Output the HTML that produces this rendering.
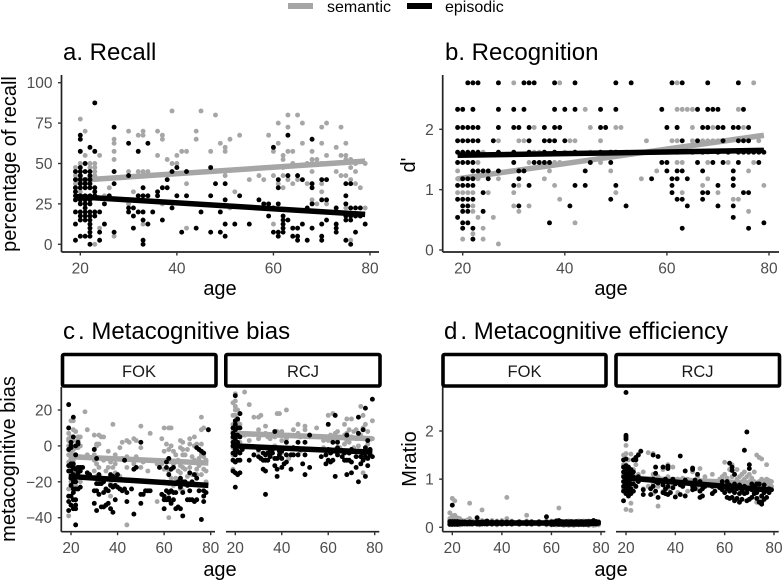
<!DOCTYPE html>
<html lang="en">
<head>
<meta charset="utf-8">
<title>Recall, recognition and metacognition by age</title>
<style>
html,body{margin:0;padding:0;background:#fff;}
svg{display:block;font-family:"Liberation Sans",Arial,sans-serif;}
.tick-label{font-size:15.5px;fill:#4d4d4d;}
.axis-title{font-size:20px;fill:#000;}
.panel-title{font-size:24px;fill:#000;}
.strip-text{font-size:16.5px;fill:#1a1a1a;}
.legend-text{font-size:16px;fill:#000;}
</style>
</head>
<body>
<svg id="chart" width="783" height="581" viewBox="0 0 783 581">
  <rect width="783" height="581" fill="#fff"/>
  <g>
    <rect x="288" y="3" width="25" height="6" fill="#a6a6a6"/>
    <text x="327" y="12" class="legend-text">semantic</text>
    <rect x="407" y="3" width="25" height="6" fill="#000"/>
    <text x="445" y="12" class="legend-text">episodic</text>
  </g>
  <text x="63" y="60" class="panel-title">a. Recall</text>
  <text x="445" y="60" class="panel-title">b. Recognition</text>
  <text x="63" y="339" class="panel-title">c<tspan dx="3">.</tspan> Metacognitive bias</text>
  <text x="444" y="339" class="panel-title">d<tspan dx="3">.</tspan> Metacognitive efficiency</text>

  <text transform="translate(16,164) rotate(-90)" text-anchor="middle" class="axis-title">percentage of recall</text>
  <text transform="translate(415,165) rotate(-90)" text-anchor="middle" class="axis-title">d'</text>
  <text transform="translate(15,459) rotate(-90)" text-anchor="middle" class="axis-title">metacognitive bias</text>
  <text transform="translate(416,459) rotate(-90)" text-anchor="middle" class="axis-title">Mratio</text>

  <text x="220" y="295" text-anchor="middle" class="axis-title">age</text>
  <text x="611" y="295" text-anchor="middle" class="axis-title">age</text>
  <text x="220" y="576" text-anchor="middle" class="axis-title">age</text>
  <text x="611" y="576" text-anchor="middle" class="axis-title">age</text>

  <g>
    <rect x="62.500" y="354.500" width="153.500" height="31.500" rx="1.5" fill="#fff" stroke="#000" stroke-width="3.6"/>
    <text x="139" y="377" text-anchor="middle" class="strip-text">FOK</text>
  </g>
  <g>
    <rect x="225.800" y="354.500" width="154.200" height="31.500" rx="1.5" fill="#fff" stroke="#000" stroke-width="3.6"/>
    <text x="303" y="377" text-anchor="middle" class="strip-text">RCJ</text>
  </g>
  <g>
    <rect x="443" y="354.500" width="163" height="31.500" rx="1.5" fill="#fff" stroke="#000" stroke-width="3.6"/>
    <text x="524.500" y="377" text-anchor="middle" class="strip-text">FOK</text>
  </g>
  <g>
    <rect x="616" y="354.500" width="163.500" height="31.500" rx="1.5" fill="#fff" stroke="#000" stroke-width="3.6"/>
    <text x="697.500" y="377" text-anchor="middle" class="strip-text">RCJ</text>
  </g>
</svg>
<script>
// Tick labels
const ageTicks = [20, 40, 60, 80];
const recallTicks = [0, 25, 50, 75, 100];
const recognitionTicks = [0, 1, 2];
const biasTicks = [-40, -20, 0, 20];
const mratioTicks = [0, 1, 2];

// Fitted lines: value at first and last age
const fitAges = [19, 79];
const recallSemanticFit = [39.5, 51.5];
const recallEpisodicFit = [29.5, 18.5];
const recognitionSemanticFit = [1.18, 1.9];
const recognitionEpisodicFit = [1.57, 1.65];
const biasFokSemanticFit = [-6, -9.5];
const biasFokEpisodicFit = [-17, -22];
const biasRcjSemanticFit = [7, 4];
const biasRcjEpisodicFit = [0, -3.5];
const mratioFokSemanticFit = [0.09, 0.09];
const mratioFokEpisodicFit = [0.09, 0.09];
const mratioRcjSemanticFit = [1.03, 0.9];
const mratioRcjEpisodicFit = [1.03, 0.77];

// Rows: [age, value, value, ...]
const recallSemantic = [[19,27.5,35,37.5,40,42.5,45,47.5],[20,30,32.5,37.5,42.5,50,77.5],[21,40,55,70],[22,35,47.5,50],[23,0,42.5,45,47.5,50],[24,10,55],[25,30],[26,35],[27,5,52.5,57.5,62.5,65],[30,25,45,70],[31,32.5],[32,45,67.5],[33,12.5,45,67.5,70],[34,45],[36,55,70],[37,25,65,67.5],[38,52.5],[39,50,82.5],[40,50,55],[41,57.5],[42,10,37.5,57.5],[44,65,70],[45,82.5],[47,57.5],[48,80],[49,62.5],[50,42.5,45,57.5,60],[51,22.5,65],[52,32.5],[53,67.5],[55,40],[57,42.5],[58,40],[59,67.5],[60,12.5,42.5,57.5],[61,37.5,62.5,75],[62,35,42.5,47.5,52.5,55],[63,40,57.5,72.5,80],[64,37.5,50,57.5],[65,40,80],[66,62.5,75],[67,37.5,50],[68,27.5,45,50,52.5,57.5],[69,25,50,52.5],[70,32.5,37.5,50,62.5,72.5],[71,25,55,75],[73,20,45,60],[74,42.5,55,72.5],[75,22.5,42.5,52.5,55,62.5],[76,2.5,40,47.5,52.5],[77,37.5,45,50],[78,35],[79,22.5,50]];
const recallEpisodic = [[19,2.5,12.5,20,27.5,30,32.5,35,40,45],[20,5,15,17.5,20,25,27.5,30,35,37.5,40,42.5,45,47.5,57.5,65,67.5],[21,5,15,17.5,20,22.5,25,27.5,30,35,37.5,40,45,50],[22,0,5,7.5,10,12.5,15,17.5,20,25,27.5,30,35,37.5,40,42.5,45,60],[23,17.5,20,30,32.5,35,57.5,87.5],[24,2.5,7.5,20],[25,12.5,25],[26,30],[27,7.5,37.5,45,72.5],[30,20,22.5,42.5,62.5],[31,10,17.5,22.5],[32,20,30,57.5],[33,0,2.5,15,20,30,35],[34,12.5,30,62.5],[35,20],[36,30,32.5],[37,15,35],[38,35,40],[39,22.5,45],[40,30,47.5],[41,7.5],[42,30,45],[44,10],[45,20],[47,7.5,30,47.5],[48,37.5],[49,7.5,20],[50,5,12.5,27.5,37.5],[52,12.5],[53,30],[55,12.5],[57,27.5],[58,25],[59,17.5,25],[60,7.5,22.5,60],[61,5,7.5,25,35,40],[62,7.5,10,12.5,15,17.5],[63,15,42.5,67.5],[64,5,10],[65,2.5,5,10,42.5],[66,12.5,40],[67,2.5,22.5],[68,10,25,35,37.5,65],[70,2.5,5,12.5,27.5,40],[71,15,27.5,40],[73,7.5,10,12.5,22.5],[75,2.5,15,17.5,25,30,37.5],[76,0,15,17.5,22.5,37.5],[77,7.5,17.5,22.5],[78,17.5,22.5],[79,12.5]];

// Rows grouped by d' level: [value, age, age, ...]
const recognitionSemantic = [[2.77,30,39,62,77],[2.33,44,62,63,64,65,74],[2.03,34,45,50,51,62,65,69,75],[1.81,27,31,32,41,42,47,56,61,62,65,67,68,69,70,78],[1.62,24,34,35,40,45,52,55,68],[1.45,23,33,38,39,47,62,63,68,72,77],[1.31,19,37,49,58,76],[1.18,19,23,27,36,55,68],[1.07,31,38,67,73,79],[0.95,19,20,21,22,25,30,50,63,70],[0.84,39,73,74],[0.73,22,30,33],[0.64,22,31,76],[0.54,23,26],[0.45,42],[0.36,24],[0.27,22],[0.18,20,24],[0.1,27]];
const recognitionEpisodic = [[2.77,21,22,23,27,32,33,34,38,42,50,53,61,63,68,74],[2.33,19,20,22,27,30,32,38,40,42,47,50,59,66,68,69,70,75],[2.03,19,20,21,22,23,27,30,31,33,36,38,39,47,48,60,62,67,68,70,71,73,74,76],[1.81,19,20,21,22,23,26,33,36,37,38,40,63,66,71,74,75,76],[1.62,19,20,21,22,23,27,30,33,36,38,42,47,49,50,58,60,62,65,67,70,72,74,75,76,77,78,79],[1.45,19,20,21,22,30,34,35,36,37,45,49,59,60,66,69,71,74,78],[1.31,22,23,24,25,27,31,32,44,60,62,63,67,73],[1.18,20,21,22,25,31,57,61,62,64,73],[1.07,19,20,21,22,30,33,42,44,50,61,70,73],[0.95,24,61,67,68,75,76],[0.84,19,20,21,22,49,62,63,67],[0.73,20,21,31,41,52,64,70,73],[0.64,20,21,24],[0.54,19,73],[0.45,20,21,37,79],[0.36,20,22,63,76],[0.18,22]];

// Rows: [age, value, value, ...]
const biasFokSemantic = [[19,-39,-24,-9,-5,0,3,4,7],[20,-20,-18,-13,-8,-5,-3,2,5,14],[21,-15,-8,-5,-2,3,9,14],[22,-22,-12,-5,-1,8],[23,-6,-1,3,5],[24,-20,-12,-6,0,5],[26,19],[27,-5,9],[30,-14,-8,-5,6],[31,-17,-10,0,1],[32,-12,1,6],[33,5],[34,-8,5],[35,-25,-14],[36,-18,-12,-3],[37,-28,-21,-9],[38,-12,-7,12],[39,-15,-10,-5],[41,-17,-1],[42,-7,2],[44,-44,-12,-6,3],[45,2],[47,-10,4],[48,-6,3],[50,-12,-1,11],[51,-9],[53,-14],[54,7],[57,-31,-10],[59,-10,4],[60,-20,-13,-3,10],[61,-8,1],[62,-40,-21,-14,-2,10],[63,-18,0,10],[64,-22,-10,-3],[65,-18,-5],[66,-14,-8],[67,-24,-15,-11,-1,3],[68,-25,-12,-5,-2,2],[69,-13,-5],[70,-17,-9,-2],[71,-12,1,4],[72,-16,-6],[73,-8,0,5],[74,-16,-13,1],[75,-11,-7],[76,-16,-5,1,9,16],[77,-13,-9,-6,10],[78,-20,-14,-8],[79,9]];
const biasFokEpisodic = [[19,-36,-31,-28,-14,-11,-2,10,23],[20,-33,-28,-22,-18,-14,-11,-10,-1,0,2],[21,-35,-30,-26,-24,-20,-16,-12,-10,5,16],[22,-44,-35,-33,-30,-24,-20,-17,-13,-5,0],[23,-24,-15,-12,1,2],[24,-23,-14,-12],[25,-12],[27,-15],[28,-16],[30,-32,-25,-18,-2],[31,-36,-25,-21,-7],[32,-27,-21,-16],[33,-34,-21,-18],[34,-34,-26,-20],[35,-33,-24],[36,-32,-25],[37,-35,-22,-16],[38,-37,-23,-17],[39,-30,-22,-18],[40,-23,-16],[41,-24],[42,-25],[43,-24,-8],[44,-31,-26],[46,-24],[47,-38,-13],[48,-12],[50,-32,-27,2],[51,-27],[52,-25],[53,-25],[54,-25],[58,-12],[59,-27],[60,-35,-30,-28],[61,-30,-25,-12,-9],[62,-30,-29,-26,-16,-7],[63,-32,-25,-13],[64,-30,-26,-12],[65,-35,-26],[66,-34,-20],[67,-35,-23,-18],[68,-39,-26,-20],[69,-20],[70,-30,-22],[71,-30,-25,-15],[72,-30,-20],[73,-31,-16],[74,-30,-18,-1],[75,-25,-2],[76,-41,-3],[77,-31,-28,-25,-4],[78,-26],[79,9]];
const biasRcjSemantic = [[19,-13,-5,-1,4,8,12,17,24],[20,0,3,6,9,13,17,20,22,25,29],[21,-3,5,10,14,20],[22,2,7,12,18],[24,6,30],[26,3,23],[28,16],[30,-3,4,9,16],[31,6,17],[33,7,11],[34,-3,5],[35,-5,4],[37,0,5],[38,8,18],[39,18],[40,-4,3,8],[42,4,20],[43,-7,6],[45,-1,9],[47,2,7,12],[48,-3,5],[50,2,9,11],[52,5],[55,10],[58,-1,3],[59,5],[60,3,17],[61,-2,6],[62,2,4,18],[63,-2,7],[64,3,8],[65,-1,5],[67,1,6,12],[68,3,7,15],[69,-4,2,9],[70,5,15],[71,-1,8],[72,4,9],[73,0,5],[74,-3,6,22],[75,-15,10,17],[76,-1,4,12],[77,1,8],[78,-2,4],[79,4,14]];
const biasRcjEpisodic = [[19,-14,-8,-4,0,2,5,7,10],[20,-23,-15,-9,-5,-2,1,4,6,9,12,14,28],[21,-16,-8,-3,2,6,10,15],[22,-15,-8,-4,0,5,10,18],[23,-2],[26,-8],[28,-5],[30,-6,-2],[31,-7,-1],[32,-13,-8,-4],[33,-27,-14,-8,-5,-1],[34,-8,-4],[35,-6,-3],[36,-4,-2],[37,-11,-7,8],[38,-17,-13,-7],[39,-5,-3],[40,-12,-7,-3],[41,-10],[42,-9,-5,2],[44,-13,-5],[45,-5,-1],[47,-5,2],[48,-2],[49,-10],[50,-16,-5,2],[52,-12,6],[57,-6],[59,-10,-5],[60,-8,-2,12],[61,-9,-4],[62,-8,-3,2],[63,-17,-3,17],[64,-5,-1,2],[66,-6,-3],[67,-8,-4],[68,-16,-8,6],[69,-8,-4],[70,-15,-9,-2],[72,-12,-6],[73,-20,-3,7,16],[74,-10,-6],[75,-8,-4,9],[76,-17,-6,-1,21],[77,-11,-7,-3,3],[78,-5,-2],[79,-6,26]];
const mratioFokSemantic = [[19,0.06,0.1,0.14,0.18,0.3],[20,0.06,0.12,0.18,0.24,0.6],[21,0.07,0.13,0.17,0.25,0.55],[22,0.06,0.12,0.16,0.2],[23,0.05,0.13,0.18],[24,0.06,0.14],[25,0.07,0.13],[26,0.06,0.15],[27,0.07,0.14,0.18,0.5],[28,0.06,0.13],[30,0.06,0.14,0.16],[31,0.05,0.13],[32,0.07,0.14,0.36],[34,0.06,0.13],[36,0.06,0.14],[38,0.05,0.13],[40,0.06,0.14],[42,0.07,0.18,0.62],[44,0.06,0.13],[47,0.06,0.12],[50,0.07,0.13,0.25],[52,0.06,0.12],[55,0.06,0.12],[58,0.05,0.13],[60,0.05,0.13],[62,0.05,0.14],[63,0.06,0.12,0.4],[65,0.04,0.12],[67,0.04,0.13],[69,0.04,0.12],[71,0.05,0.13],[73,0.05,0.13],[75,0.04,0.13],[77,0.04,0.14],[78,0.05,0.12],[79,0.05,0.11]];
const mratioFokEpisodic = [[19,0.06,0.09,0.12],[20,0.06,0.09,0.12,0.46],[21,0.06,0.1,0.12],[22,0.06,0.09,0.12],[23,0.07,0.11],[24,0.07,0.11],[25,0.07,0.11],[26,0.07,0.1],[27,0.07,0.11],[28,0.07,0.1],[30,0.07,0.11,0.2],[31,0.07,0.1],[32,0.07,0.11],[33,0.07,0.11],[34,0.07,0.13],[36,0.07,0.11],[38,0.07,0.11],[40,0.07,0.11],[42,0.07,0.11],[44,0.07,0.11],[47,0.07,0.11],[50,0.07,0.11],[52,0.07,0.11],[55,0.07,0.11],[58,0.07,0.11,0.22],[60,0.06,0.11],[61,0.06,0.11],[62,0.07,0.13],[63,0.06,0.14],[64,0.06,0.12],[65,0.06,0.11],[66,0.06,0.12],[67,0.06,0.11],[68,0.06,0.12],[69,0.06,0.11],[70,0.06,0.12],[71,0.06,0.11],[72,0.06,0.12],[73,0.06,0.11],[74,0.06,0.12],[75,0.06,0.12],[76,0.07,0.12],[77,0.07,0.14],[78,0.07,0.12],[79,0.08,0.11]];
const mratioRcjSemantic = [[19,0.8,0.95,1.1,1.3,1.5],[20,0.37,0.7,0.85,1,1.15,1.3,1.53,1.7],[21,0.75,0.9,1.05,1.2,1.4],[22,0.35,0.5,0.8,1.1,1.52],[23,0.9,1.2],[24,0.85,1.05,1.3],[25,0.95,1.1,1.52],[27,0.8,1.15],[29,0.85,1.55],[31,0.7,0.9,1.1,1.53],[33,0.44,0.85,1.05],[35,0.75,0.95,1.2],[37,0.8,1.05,1.3],[39,0.9,1.25],[41,0.72,1],[43,0.85,1.02],[45,0.75,1],[47,0.95,1.15],[49,0.8,1.05],[50,0.95,1.22],[52,0.85,1.05],[55,0.95,1.1],[58,0.85,1],[59,1.03,1.05],[60,0.9,1.1,1.35],[61,0.85,1.02],[62,0.95,1.2],[63,0.9,1.05,1.3],[65,0.85,1,1.2],[66,0.9,1.05],[67,0.8,0.95,1.1],[68,0.85,1,1.15],[69,0.9,1.05],[70,0.8,0.95,1.1],[71,0.9,1.02],[72,0.7,0.95,1.15],[73,0.52,0.85,1.5],[74,0.6,0.95,1.45],[75,0.88,1,1.42],[76,0.75,0.95],[77,0.85,1,1.3],[78,0.9,0.97],[79,0.85,0.95]];
const mratioRcjEpisodic = [[19,0.55,0.75,0.85,0.95,1.05,1.15,1.25,1.4],[20,0.7,0.78,0.85,0.92,0.98,1.05,1.12,1.2,1.28,1.42,1.83,1.87,1.91,2.8],[21,0.65,0.75,0.85,0.95,1.05,1.15,1.25],[22,0.7,0.8,0.9,1,1.1,1.2],[23,0.75,0.9,1.05,1.15,1.4],[24,0.85,1,1.4,1.45],[25,0.95,1.05,1.5],[26,1.58],[27,0.68,0.78],[30,0.68,0.8,0.98],[31,0.85,1,1.5],[32,0.75,0.95,1.25,1.12],[33,0.62,0.92,1.47],[35,0.72,0.88,0.95,1.25],[36,0.7,0.8,1],[37,0.68,0.85,1.27,1.22],[38,0.72,0.95],[39,0.82,1],[40,0.63,0.9],[42,0.68,0.88,1.48],[43,0.85],[44,0.65,0.98,1.17],[47,0.78,0.85,1.2,1.23],[48,0.8,0.98],[49,1.1],[50,0.62,0.75,0.95],[51,0.65,0.8],[52,0.85],[55,0.7,0.85],[56,0.75],[58,0.82],[59,0.78,0.95],[60,0.72,0.85],[61,0.62,0.8,0.95],[62,0.6,0.75,0.88,1.33],[63,0.62,0.78,1.25,1.18],[64,0.55,0.72,0.9,1.1],[65,0.6,0.8],[66,0.52,0.7,0.88],[67,0.58,0.75],[68,0.7,0.85,1.6],[69,0.55,0.72,1.98],[70,0.58,0.8,1.22,1.3],[71,0.62,0.78,0.9],[72,0.7,0.85],[73,0.6,0.72,0.9],[74,0.52,0.78,0.9],[75,0.48,0.52,0.65,0.8],[76,0.58,0.72,0.88],[77,0.62,0.78],[78,0.72,0.8],[79,0.78]];

const SEMANTIC_COLOR = '#a6a6a6';
const EPISODIC_COLOR = '#000000';
const root = document.getElementById('chart');
const NS = root.namespaceURI;

function linearScale(d0, d1, r0, r1) {
  return function (v) { return r0 + (v - d0) * (r1 - r0) / (d1 - d0); };
}
function make(parent, tag, props) {
  const el = document.createElementNS(NS, tag);
  for (const k in props) el.setAttribute(k, props[k]);
  parent.appendChild(el);
  return el;
}
function drawPoints(layer, rows, x, y, color, seriesName, rowsByValue) {
  for (const row of rows) {
    for (let i = 1; i < row.length; i++) {
      const age = rowsByValue ? row[i] : row[0];
      const value = rowsByValue ? row[0] : row[i];
      const dot = make(layer, 'circle', { cx: x(age), cy: y(value), r: 2.45, fill: color });
      
      
    }
  }
}
function drawFit(layer, fit, x, y, color, seriesName) {
  const line = make(layer, 'line', {
    x1: x(fitAges[0]), y1: y(fit[0]), x2: x(fitAges[1]), y2: y(fit[1]),
    stroke: color, 'stroke-width': 5.5
  });
  
  
}
function drawPanel(cfg) {
  const x = linearScale(20, 80, cfg.x20, cfg.x80);
  const y = linearScale(cfg.yDomain[0], cfg.yDomain[1], cfg.yRange[0], cfg.yRange[1]);
  const g = make(root, 'g', {});
  
  

  drawPoints(g, cfg.semantic, x, y, SEMANTIC_COLOR, 'semantic', cfg.byValue);
  drawFit(g, cfg.semanticFit, x, y, SEMANTIC_COLOR, 'semantic');
  drawPoints(g, cfg.episodic, x, y, EPISODIC_COLOR, 'episodic', cfg.byValue);
  drawFit(g, cfg.episodicFit, x, y, EPISODIC_COLOR, 'episodic');

  const xAxis = make(g, 'line', { x1: cfg.left, y1: cfg.bottom, x2: cfg.right, y2: cfg.bottom, stroke: '#222', 'stroke-width': 1.7 });
  
  
  for (const t of ageTicks) {
    const tick = make(g, 'line', { x1: x(t), y1: cfg.bottom, x2: x(t), y2: cfg.bottom + 3.5, stroke: '#333', 'stroke-width': 1.4 });
    
    
    const label = make(g, 'text', { x: x(t), y: cfg.bottom + 21.5, 'text-anchor': 'middle', class: 'tick-label' });
    
    
    label.textContent = String(t);
  }
  if (cfg.yTicks) {
    const yAxis = make(g, 'line', { x1: cfg.left, y1: cfg.top, x2: cfg.left, y2: cfg.bottom, stroke: '#222', 'stroke-width': 1.7 });
    
    
    for (const t of cfg.yTicks) {
      const tick = make(g, 'line', { x1: cfg.left - 3.5, y1: y(t), x2: cfg.left, y2: y(t), stroke: '#333', 'stroke-width': 1.4 });
      
      
      const label = make(g, 'text', { x: cfg.left - 9, y: y(t) + 5.5, 'text-anchor': 'end', class: 'tick-label' });
      
      
      label.textContent = String(t).replace('-', '\u2212');
    }
  }
}

const biasY = { yDomain: [-40, 20], yRange: [517.7, 410] };
const mratioY = { yDomain: [0, 2], yRange: [527.3, 431] };

drawPanel({ name: 'recall', left: 61.5, right: 379, top: 75, bottom: 252, x20: 80.3, x80: 370, yDomain: [0, 100], yRange: [244.3, 82.7], yTicks: recallTicks,
  semantic: recallSemantic, episodic: recallEpisodic, semanticFit: recallSemanticFit, episodicFit: recallEpisodicFit });
drawPanel({ name: 'recognition', left: 442.7, right: 779, top: 75, bottom: 252, x20: 462.7, x80: 769, yDomain: [0, 2], yRange: [250, 129.3], yTicks: recognitionTicks, byValue: true,
  semantic: recognitionSemantic, episodic: recognitionEpisodic, semanticFit: recognitionSemanticFit, episodicFit: recognitionEpisodicFit });
drawPanel({ name: 'bias-fok', left: 61.3, right: 215, top: 387, bottom: 531.7, x20: 71, x80: 210.7, yDomain: biasY.yDomain, yRange: biasY.yRange, yTicks: biasTicks,
  semantic: biasFokSemantic, episodic: biasFokEpisodic, semanticFit: biasFokSemanticFit, episodicFit: biasFokEpisodicFit });
drawPanel({ name: 'bias-rcj', left: 226, right: 379.3, top: 387, bottom: 531.7, x20: 235.3, x80: 374.7, yDomain: biasY.yDomain, yRange: biasY.yRange,
  semantic: biasRcjSemantic, episodic: biasRcjEpisodic, semanticFit: biasRcjSemanticFit, episodicFit: biasRcjEpisodicFit });
drawPanel({ name: 'mratio-fok', left: 442.7, right: 605.3, top: 387, bottom: 531.7, x20: 452.3, x80: 601, yDomain: mratioY.yDomain, yRange: mratioY.yRange, yTicks: mratioTicks,
  semantic: mratioFokSemantic, episodic: mratioFokEpisodic, semanticFit: mratioFokSemanticFit, episodicFit: mratioFokEpisodicFit });
drawPanel({ name: 'mratio-rcj', left: 616, right: 778.7, top: 387, bottom: 531.7, x20: 626, x80: 774, yDomain: mratioY.yDomain, yRange: mratioY.yRange,
  semantic: mratioRcjSemantic, episodic: mratioRcjEpisodic, semanticFit: mratioRcjSemanticFit, episodicFit: mratioRcjEpisodicFit });
</script>
</body>
</html>
